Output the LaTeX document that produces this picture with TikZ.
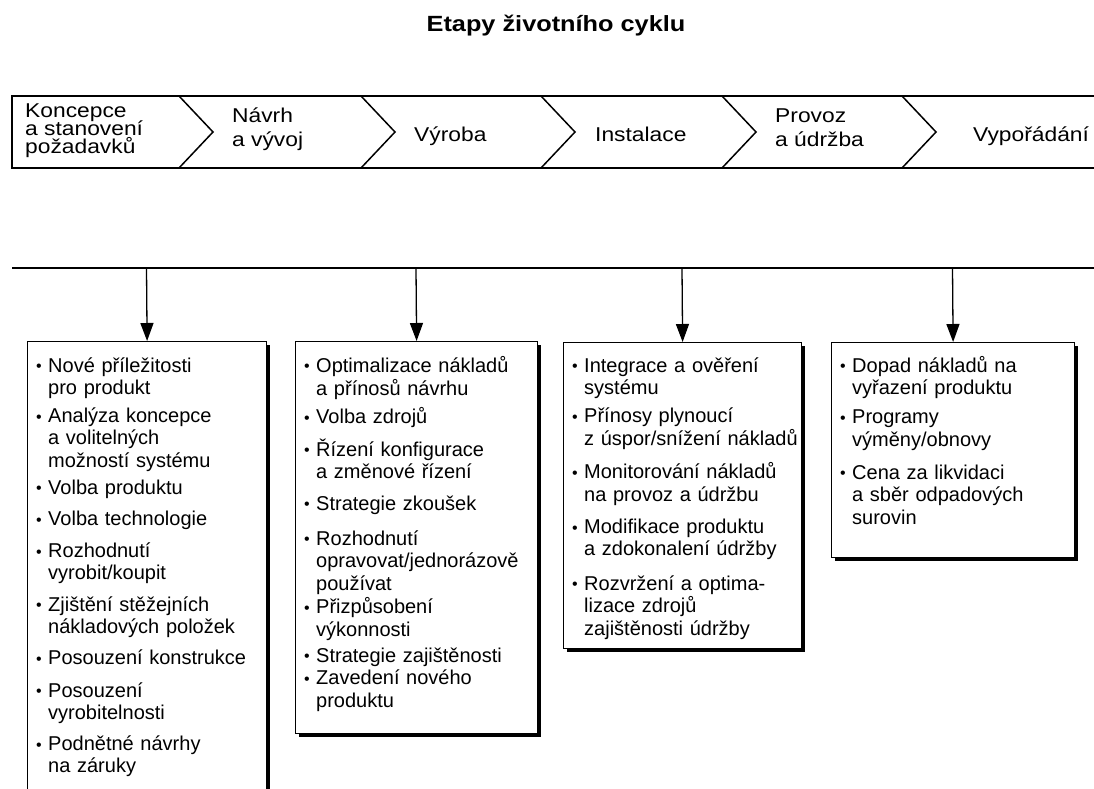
\documentclass[tikz,border=0pt]{standalone}
\usepackage{fontspec}
\setmainfont{Liberation Sans}
\newfontfamily\barfont[FakeStretch=1.14]{Liberation Sans}
\newfontfamily\ttlfont[FakeStretch=1.15]{Liberation Sans}
\usetikzlibrary{arrows.meta,shadows}
\newcommand\bul{\makebox[12pt][l]{\fontsize{16}{16}\selectfont\raisebox{0.3pt}{•}}}
\newcommand\ind{\hspace*{12pt}}
\newcommand\fr{\rule{0pt}{21pt}}
\tikzset{
  barline/.style={line width=1.5pt, line join=miter},
  conn/.style={line width=1.3pt, -{Triangle[width=13pt,length=18pt]}},
  itembox/.style={draw, line width=1.2pt, fill=white, inner sep=0pt, anchor=north west,
    drop shadow={shadow xshift=3pt, shadow yshift=-3pt, opacity=1, fill=black}},
  bartext/.style={font=\barfont\fontsize{20}{24}\selectfont, inner sep=0pt, align=left},
  bartight/.style={font=\barfont\fontsize{20}{18}\selectfont, inner sep=0pt, align=left},
  itemtext/.style={inner sep=0pt, anchor=north west, align=left, text width=235pt},
}
\begin{document}
\begin{tikzpicture}[x=1pt, y=-1pt]
\lineskiplimit=-100pt\relax
\useasboundingbox (0,0) rectangle (1094,789);
\clip (0,0) rectangle (1094,789);
\fill[white] (0,0) rectangle (1094,789);

% title
\node[font=\ttlfont\bfseries\fontsize{22}{26}\selectfont, anchor=base, inner sep=0pt] (title) at (556,32) {Etapy životního cyklu};

% phase bar
\draw[barline] (1094,96) -- (12,96) -- (12,168) -- (1094,168);
\foreach \cx in {179,361,541,722,902}{
  \draw[barline] (\cx,96) -- (\cx+34,132) -- (\cx,168);
}
\node[bartight, anchor=north west] (s1) at (25,100) {\rule{0pt}{17pt}Koncepce\\a stanovení\\požadavků};
\node[bartext, anchor=north west] (s2) at (232,105) {\rule{0pt}{17pt}Návrh\\a vývoj};
\node[bartext, anchor=base west] (s3) at (414,141) {Výroba};
\node[bartext, anchor=base west] (s4) at (595,141) {Instalace};
\node[bartext, anchor=north west] (s5) at (775,105) {\rule{0pt}{17pt}Provoz\\a údržba};
\node[bartext, anchor=base west] (s6) at (973,141) {Vypořádání};

% distribution line
\draw[barline] (12,268) -- (1094,268);
\coordinate (j1) at (146.5,268);
\coordinate (j2) at (416,268);
\coordinate (j3) at (682,268);
\coordinate (j4) at (952.5,268);

% boxes
\node[itembox, minimum width=239pt, minimum height=480pt] (b1) at (27,341) {};
\node[itembox, minimum width=242pt, minimum height=392pt] (b2) at (295,341) {};
\node[itembox, minimum width=238pt, minimum height=306pt] (b3) at (563,342) {};
\node[itembox, minimum width=243pt, minimum height=215pt] (b4) at (831,342) {};

\draw[conn] (j1) -- (b1.north);
\draw[conn] (j2) -- (b2.north);
\draw[conn] (j3) -- (b3.north);
\draw[conn] (j4) -- (b4.north);

% box texts
\node[itemtext, font=\fontsize{20}{22.2}\selectfont] (t1) at (36,351) {%
\fr\bul Nové příležitosti\\
\ind pro produkt\\[6pt]
\bul Analýza koncepce\\
\ind a volitelných\\
\ind možností systému\\[5pt]
\bul Volba produktu\\[9.5pt]
\bul Volba technologie\\[9.5pt]
\bul Rozhodnutí\\
\ind vyrobit/koupit\\[9pt]
\bul Zjištění stěžejních\\
\ind nákladových položek\\[9pt]
\bul Posouzení konstrukce\\[10.5pt]
\bul Posouzení\\
\ind vyrobitelnosti\\[9pt]
\bul Podnětné návrhy\\
\ind na záruky};

\node[itemtext, font=\fontsize{20}{22.8}\selectfont] (t2) at (304,351) {%
\fr\bul Optimalizace nákladů\\
\ind a přínosů návrhu\\[5.5pt]
\bul Volba zdrojů\\[10pt]
\bul Řízení konfigurace\\
\ind a změnové řízení\\[8.5pt]
\bul Strategie zkoušek\\[12pt]
\bul Rozhodnutí\\
\ind opravovat/jednorázově\\
\ind používat\\[0.5pt]
\bul Přizpůsobení\\
\ind výkonnosti\\[2.5pt]
\bul Strategie zajištěnosti\\
\bul Zavedení nového\\
\ind produktu};

\node[itemtext, font=\fontsize{20}{22.6}\selectfont] (t3) at (572,351) {%
\fr\bul Integrace a ověření\\
\ind systému\\[5.5pt]
\bul Přínosy plynoucí\\
\ind z úspor/snížení nákladů\\[10.5pt]
\bul Monitorování nákladů\\
\ind na provoz a údržbu\\[9.5pt]
\bul Modifikace produktu\\
\ind a zdokonalení údržby\\[11.5pt]
\bul Rozvržení a optima-\\
\ind lizace zdrojů\\
\ind zajištěnosti údržby};

\node[itemtext, font=\fontsize{20}{22.7}\selectfont] (t4) at (840,351) {%
\fr\bul Dopad nákladů na\\
\ind vyřazení produktu\\[6pt]
\bul Programy\\
\ind výměny/obnovy\\[10pt]
\bul Cena za likvidaci\\
\ind a sběr odpadových\\
\ind surovin};
\end{tikzpicture}
\end{document}
